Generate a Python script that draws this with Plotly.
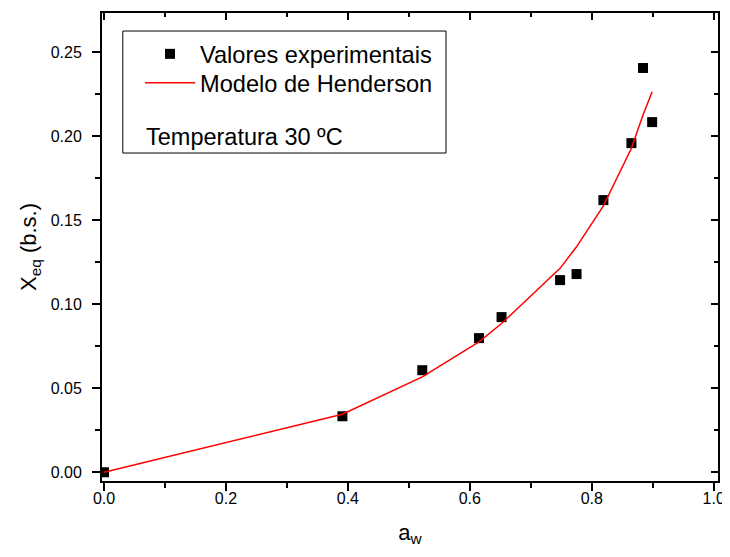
import plotly.graph_objs as go

# experimental points (a_w, X_eq)
aw_exp = [0.0, 0.391, 0.522, 0.615, 0.652, 0.748, 0.775, 0.819, 0.865, 0.884, 0.899]
xeq_exp = [0.0, 0.0333, 0.0607, 0.0798, 0.0923, 0.1143, 0.1179, 0.1619, 0.1958, 0.2405, 0.2083]

# Henderson model evaluated at the same a_w
aw_mod = [0.0, 0.391, 0.522, 0.615, 0.652, 0.748, 0.775, 0.819, 0.865, 0.884, 0.899]
xeq_mod = [0.0, 0.0345, 0.0567, 0.0776, 0.0885, 0.1213, 0.1341, 0.1585, 0.1927, 0.2125, 0.2264]

x_ticks = [0.0, 0.2, 0.4, 0.6, 0.8, 1.0]
y_ticks = [0.0, 0.05, 0.10, 0.15, 0.20, 0.25]

xr = [-0.0033, 1.007]
yr = [-0.0052, 0.2732]

font = 'Liberation Sans, Arial, sans-serif'

data = [
    go.Scatter(x=aw_exp, y=xeq_exp, mode='markers', name='Valores experimentais',
               marker=dict(symbol='square', size=10, color='black'), legend='legend'),
    go.Scatter(x=aw_mod, y=xeq_mod, mode='lines', name='Modelo de Henderson',
               line=dict(color='red', width=1.5), legend='legend2'),
    # dummy trace so the top/right axes get drawn
    go.Scatter(x=aw_exp, y=xeq_exp, mode='markers', xaxis='x2', yaxis='y2',
               marker=dict(opacity=0), showlegend=False, hoverinfo='skip'),
]

leg = dict(xanchor='left', yanchor='top', bgcolor='rgba(0,0,0,0)', borderwidth=0,
           font=dict(size=23.6), itemwidth=50)

layout = go.Layout(
    width=722, height=549,
    paper_bgcolor='white', plot_bgcolor='white',
    margin=dict(l=94, r=12, t=5, b=76),
    font=dict(family=font, color='black', size=16),
    xaxis=dict(range=xr, tickvals=x_ticks, tickformat='.1f', automargin=False,
               ticks='outside', ticklen=8, tickwidth=1.5, tickcolor='black',
               minor=dict(dtick=0.1, tick0=0, ticks='outside', ticklen=5, tickwidth=1.5, tickcolor='black'),
               showline=True, linecolor='black', linewidth=2, mirror=True,
               showgrid=False, zeroline=False,
               tickfont=dict(size=16), ticklabelstandoff=-6,
               title=dict(text='a<sub>w</sub>', font=dict(size=22), standoff=18)),
    yaxis=dict(range=yr, tickvals=y_ticks, tickformat='.2f', automargin=False,
               ticks='outside', ticklen=8, tickwidth=1.5, tickcolor='black',
               minor=dict(dtick=0.025, tick0=0, ticks='outside', ticklen=5, tickwidth=1.5, tickcolor='black'),
               showline=True, linecolor='black', linewidth=2, mirror=True,
               showgrid=False, zeroline=False,
               tickfont=dict(size=16), ticklabelstandoff=7,
               title=dict(text='X<sub>eq</sub> (b.s.)', font=dict(size=22), standoff=8)),
    xaxis2=dict(range=xr, overlaying='x', side='top', tickvals=x_ticks, automargin=False,
                ticks='inside', ticklen=7, tickwidth=1.5, tickcolor='black',
                minor=dict(dtick=0.1, tick0=0, ticks='inside', ticklen=4, tickwidth=1.5, tickcolor='black'),
                showticklabels=False, showgrid=False, zeroline=False),
    yaxis2=dict(range=yr, overlaying='y', side='right', tickvals=y_ticks, automargin=False,
                ticks='inside', ticklen=7, tickwidth=1.5, tickcolor='black',
                minor=dict(dtick=0.025, tick0=0, ticks='inside', ticklen=4, tickwidth=1.5, tickcolor='black'),
                showticklabels=False, showgrid=False, zeroline=False),
    legend=dict(leg, x=0.0617, y=0.9594),
    legend2=dict(leg, x=0.0617, y=0.8974),
    shapes=[dict(type='rect', xref='paper', yref='paper',
                 x0=0.0338, x1=0.5585, y0=0.7008, y1=0.9615,
                 line=dict(color='black', width=1), fillcolor='rgba(0,0,0,0)')],
    annotations=[dict(text='Temperatura 30 ºC', xref='paper', yref='paper',
                      x=0.0676, y=0.7355, xanchor='left', yanchor='middle',
                      showarrow=False, font=dict(size=23.5))],
)

fig = go.Figure(data=data, layout=layout)
fig.write_html('out.html')
